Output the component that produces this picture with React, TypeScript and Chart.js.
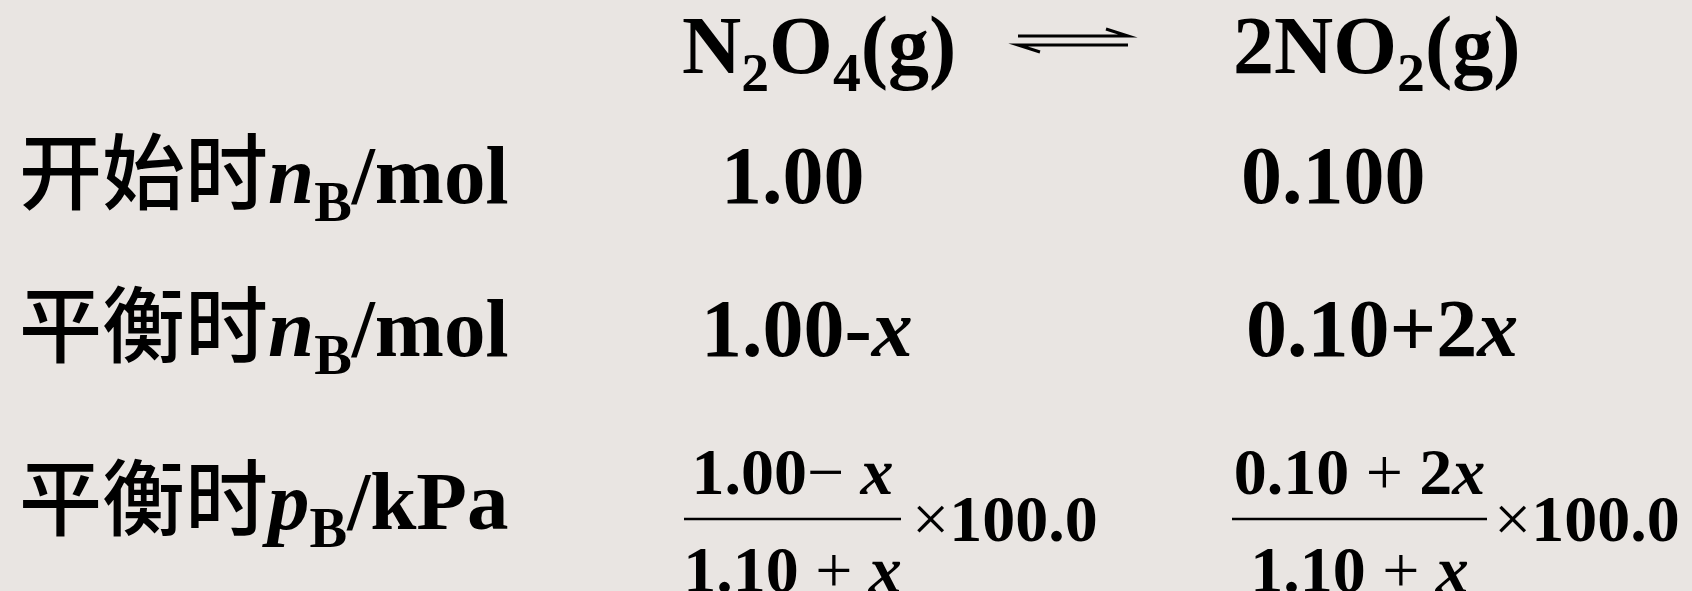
import React, { useEffect, useRef } from "react";
import { Chart, registerables } from "chart.js";
Chart.register(...registerables);

// ---------- data (markup: *...* italic, _X subscript next char) ----------
const speciesLabels: string[] = ["N_2O_4(g)", "2NO_2(g)"];
const rowLabels: string[] = ["开始时*n*_B/mol", "平衡时*n*_B/mol", "平衡时*p*_B/kPa"];
const initialAmounts: string[] = ["1.00", "0.100"];
const equilibriumAmounts: string[] = ["1.00-*x*", "0.10+2*x*"];
const pressureNumerators: string[] = ["1.00− *x*", "0.10 + 2*x*"];
const pressureDenominators: string[] = ["1.10 + *x*", "1.10 + *x*"];
const totalPressureFactor: string[] = ["×100.0", "×100.0"];

// ---------- layout (page pixels, mapped through the chart's linear scales) ----------
const W = 1692;
const H = 591;
const BG = "#E9E5E2";
const FONT_SIZE = 82;
const LABEL_SIZE = 83;
const FRAC_SIZE = 66;
const SUB_RATIO = 0.68;
const headerX = [682, 1233];
const headerY = 73;
const arrowX = [1018, 1128];
const arrowY = [36, 45];
const labelX = 19;
const rowY = [203, 356, 529];
const initialX = [721, 1241];
const equilibriumX = [701, 1246];
const fracBarX = [[684, 901], [1232, 1487]];
const fracBarY = 519;
const fracNumY = 494;
const fracDenY = 592;
const factorX = [912, 1494];
const factorY = 541;

type Seg = { t: string; it: boolean; sub: boolean };

function parse(s: string): Seg[] {
  const segs: Seg[] = [];
  let it = false;
  let subNext = false;
  for (const ch of s) {
    if (ch === "*") { it = !it; continue; }
    if (ch === "_") { subNext = true; continue; }
    segs.push({ t: ch, it, sub: subNext });
    subNext = false;
  }
  return segs;
}

function fontFor(seg: Seg, size: number, thinOps: boolean): string {
  const sz = seg.sub ? size * SUB_RATIO : size;
  if (/[\u2e80-\u9fff]/.test(seg.t)) return `500 ${sz}px "Noto Sans CJK SC"`;
  if (seg.t === "×" || seg.t === "−" || (seg.t === "+" && thinOps)) return `normal ${sz}px "Liberation Serif"`;
  return `${seg.it ? "italic " : ""}bold ${sz}px "Liberation Serif"`;
}

function drawRich(ctx: CanvasRenderingContext2D, text: string, x: number, y: number, size: number, align: "left" | "center" = "left", thinOps = false) {
  const segs = parse(text);
  let total = 0;
  for (const s of segs) {
    ctx.font = fontFor(s, size, thinOps);
    total += ctx.measureText(s.t).width;
  }
  let cx = align === "center" ? x - total / 2 : x;
  ctx.textAlign = "left";
  ctx.textBaseline = "alphabetic";
  for (const s of segs) {
    ctx.font = fontFor(s, size, thinOps);
    const dy = s.sub ? size * 0.22 : 0;
    ctx.fillText(s.t, cx, y + dy);
    cx += ctx.measureText(s.t).width;
  }
}

const tablePlugin = {
  id: "equilibriumTable",
  beforeDraw(chart: any) {
    const { ctx } = chart;
    ctx.save();
    ctx.fillStyle = BG;
    ctx.fillRect(0, 0, chart.width, chart.height);
    ctx.restore();
  },
  afterDraw(chart: any) {
    const { ctx } = chart;
    const xs = chart.scales.x;
    const ys = chart.scales.y;
    const px = (v: number) => xs.getPixelForValue(v);
    const py = (v: number) => ys.getPixelForValue(v);
    ctx.save();
    ctx.fillStyle = "#000";
    ctx.strokeStyle = "#000";

    // header: species
    speciesLabels.forEach((s, i) => drawRich(ctx, s, px(headerX[i]), py(headerY), FONT_SIZE));

    // equilibrium harpoons
    ctx.lineWidth = 3;
    ctx.lineCap = "butt";
    ctx.beginPath();
    ctx.moveTo(px(arrowX[0]), py(arrowY[0]));
    ctx.lineTo(px(arrowX[1]), py(arrowY[0]));
    ctx.lineTo(px(arrowX[1]) - 22, py(arrowY[0]) - 7);
    ctx.moveTo(px(arrowX[1]), py(arrowY[1]));
    ctx.lineTo(px(arrowX[0]), py(arrowY[1]));
    ctx.lineTo(px(arrowX[0]) + 22, py(arrowY[1]) + 7);
    ctx.stroke();

    // row labels
    rowLabels.forEach((s, i) => drawRich(ctx, s, px(labelX), py(rowY[i]), LABEL_SIZE));

    // initial & equilibrium amounts
    initialAmounts.forEach((s, i) => drawRich(ctx, s, px(initialX[i]), py(rowY[0]), FONT_SIZE));
    equilibriumAmounts.forEach((s, i) => drawRich(ctx, s, px(equilibriumX[i]), py(rowY[1]), FONT_SIZE));

    // partial pressures as fractions
    ctx.lineWidth = 2.5;
    pressureNumerators.forEach((num, i) => {
      const [a, b] = fracBarX[i];
      const mid = (px(a) + px(b)) / 2;
      ctx.beginPath();
      ctx.moveTo(px(a), py(fracBarY));
      ctx.lineTo(px(b), py(fracBarY));
      ctx.stroke();
      drawRich(ctx, num, mid, py(fracNumY), FRAC_SIZE, "center", true);
      drawRich(ctx, pressureDenominators[i], mid, py(fracDenY), FRAC_SIZE, "center", true);
      drawRich(ctx, totalPressureFactor[i], px(factorX[i]), py(factorY), FRAC_SIZE, "left", true);
    });
    ctx.restore();
  },
};

export default function App() {
  const ref = useRef<HTMLCanvasElement | null>(null);
  useEffect(() => {
    document.body.style.margin = "0";
    document.body.style.background = BG;
    const canvas = ref.current!;
    const chart = new Chart(canvas, {
      type: "scatter",
      data: { datasets: [{ data: [], pointRadius: 0 }] },
      options: {
        animation: false,
        responsive: false,
        devicePixelRatio: 1,
        layout: { padding: 0 },
        plugins: { legend: { display: false }, tooltip: { enabled: false }, title: { display: false } },
        scales: {
          x: { type: "linear", min: 0, max: W, display: false },
          y: { type: "linear", min: 0, max: H, reverse: true, display: false },
        },
      },
      plugins: [tablePlugin],
    });
    return () => chart.destroy();
  }, []);
  return (
    <div style={{ position: "fixed", left: 0, top: 0, width: W, height: H, background: BG }}>
      <canvas ref={ref} width={W} height={H} style={{ display: "block", width: W, height: H }} />
    </div>
  );
}
